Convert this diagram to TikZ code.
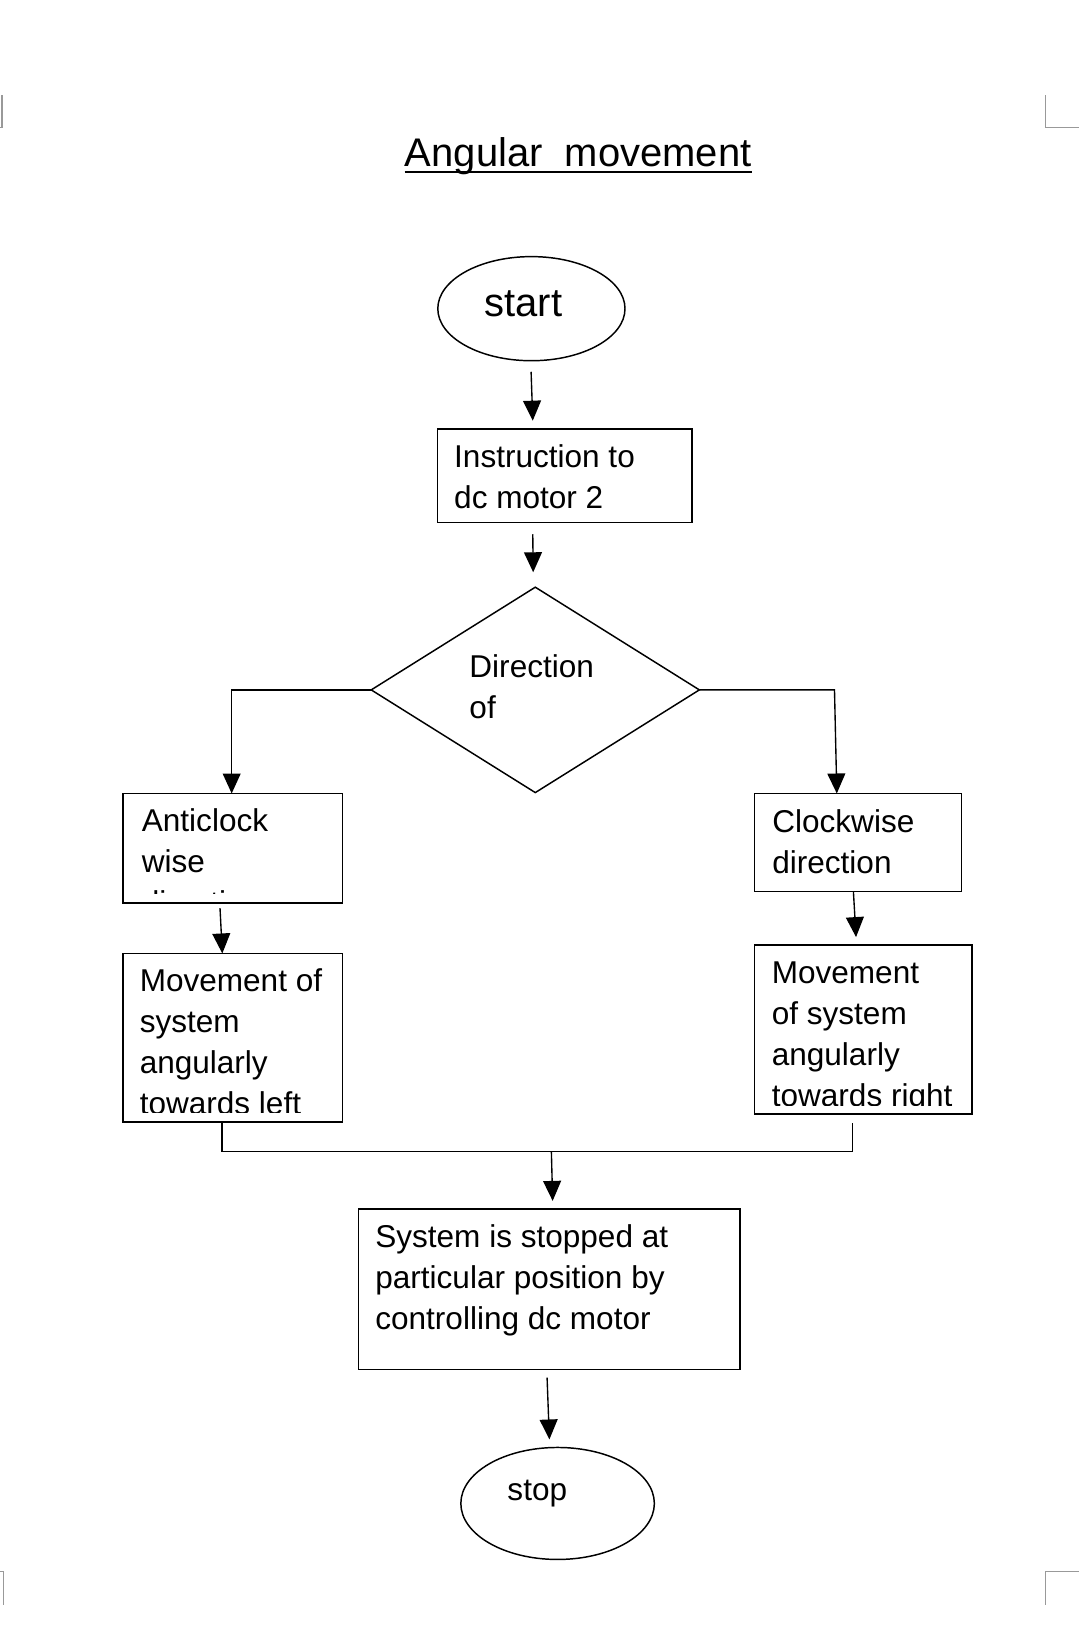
\documentclass[tikz,border=0pt]{standalone}
\usepackage{fontspec}
\setmainfont{Liberation Sans}
\usetikzlibrary{arrows.meta,shapes.geometric}
\newcommand\tstr{\rule{0pt}{12pt}}
\begin{document}
\begin{tikzpicture}[x=0.5pt,y=-0.5pt,
  box/.style={draw, line width=0.7pt, inner sep=0pt, outer sep=0pt},
  oval/.style={draw, ellipse, line width=0.7pt, inner sep=0pt, outer sep=0pt},
  txt/.style={anchor=north west, inner sep=0pt, align=left, font=\fontsize{15pt}{19.5pt}\selectfont},
  arr/.style={line width=0.65pt, -{Triangle[length=9.5pt,width=8.5pt]}},
  lin/.style={line width=0.65pt},
  cmark/.style={draw=black!40, line width=0.6pt}
]
\useasboundingbox (0,0) rectangle (1026,1568);

% page corner marks
\draw[cmark] (2,90.4) -- (2,121.4) -- (0,121.4);
\draw[cmark] (994.2,90.4) -- (994.2,121.4) -- (1026,121.4);
\draw[cmark] (994,1525.7) -- (994,1494) -- (1026,1494);
\draw[cmark] (3.2,1525.7) -- (3.2,1494) -- (0,1494);

% title
\node[anchor=base, inner sep=0pt, font=\fontsize{19pt}{23pt}\selectfont] (title) at (549.8,158.5) {Angular\ \ movement};
\draw[line width=1.1pt] ([shift={(0,4.8)}]title.base west) -- ([shift={(0,4.8)}]title.base east);

% start
\node[oval, minimum width=89pt, minimum height=49.5pt] (start) at (505.3,293.5) {};
\node[anchor=base, inner sep=0pt, font=\fontsize{19pt}{23pt}\selectfont] (startl) at (497.7,301.2) {start};

% instruction
\node[box, minimum width=121pt, minimum height=44.5pt] (instr) at (537,452.5) {};
\node[txt] (instrt) at (431.5,420.4) {\tstr Instruction to\\dc motor 2};

% decision
\node[draw, diamond, line width=0.7pt, inner sep=0pt, outer sep=0pt, minimum width=156pt, minimum height=97.65pt] (dir) at (509,656) {};
\node[txt] (dirt) at (446,619.5) {\tstr Direction\\of};

% left branch
\node[box, minimum width=104.3pt, minimum height=52pt] (acw) at (221.3,806.5) {};
\begin{scope}
\clip (117,754.5) rectangle (325.6,849.5);
\node[txt] (acwt) at (134.5,766) {\tstr Anticlock\\wise\\direction};
\end{scope}
\node[box, minimum width=104.3pt, minimum height=80.2pt] (acwm) at (221.3,986.8) {};
\begin{scope}
\clip (117,906.6) rectangle (325.6,1057.5);
\node[txt] (acwmt) at (132.5,918) {\tstr Movement of\\system\\angularly\\towards left};
\end{scope}

% right branch
\node[box, minimum width=98.5pt, minimum height=46.5pt] (cw) at (816,801) {};
\node[txt] (cwt) at (734,767) {\tstr Clockwise\\direction};
\node[box, minimum width=103.5pt, minimum height=80.15pt] (cwm) at (820.9,978.9) {};
\begin{scope}
\clip (717.4,898.7) rectangle (924.4,1051);
\node[txt] (cwmt) at (733.5,911) {\tstr Movement\\of system\\angularly\\towards right};
\end{scope}

% system stopped
\node[box, minimum width=181.25pt, minimum height=76.25pt] (sys) at (522.35,1225.75) {};
\node[txt] (syst) at (356.5,1161.6) {\tstr System is stopped at\\particular position by\\controlling dc motor};

% stop
\node[oval, minimum width=92pt, minimum height=53.25pt] (stop) at (530.2,1429.6) {};
\node[anchor=base, inner sep=0pt, font=\fontsize{15pt}{19pt}\selectfont] (stopl) at (510.9,1427) {stop};

% connectors
\draw[arr] ([shift={(-0.3,10.5)}]start.south) -- ([shift={(-30.4,-8)}]instr.north);
\draw[arr] ([shift={(-30.4,11)}]instr.south) -- ([shift={(-2,-14.2)}]dir.north);
\draw[arr] (dir.west) -| ([shift={(-1,0)}]acw.north);
\draw[arr] (dir.east) -- ([shift={(-22.5,0)}]cw.north |- dir.east) -- ([shift={(-20.3,0)}]cw.north);
\draw[arr] ([shift={(-12.1,5)}]acw.south) -- ([shift={(-9.9,0)}]acwm.north);
\draw[arr] ([shift={(-4.5,0.6)}]cw.south) -- ([shift={(-6.9,-7.7)}]cwm.north);
\draw[lin] ([shift={(-10.3,0)}]acwm.south) -- ++(0,28.2) coordinate (mj) -| ([shift={(-10.1,8.7)}]cwm.south);
\coordinate (mjc) at (524.3,1095.2);
\draw[arr] (mjc) -- ([shift={(3.15,-7.6)}]sys.north);
\draw[arr] ([shift={(-2.15,8)}]sys.south) -- ([shift={(-7.8,-7.6)}]stop.north);
\end{tikzpicture}
\end{document}
